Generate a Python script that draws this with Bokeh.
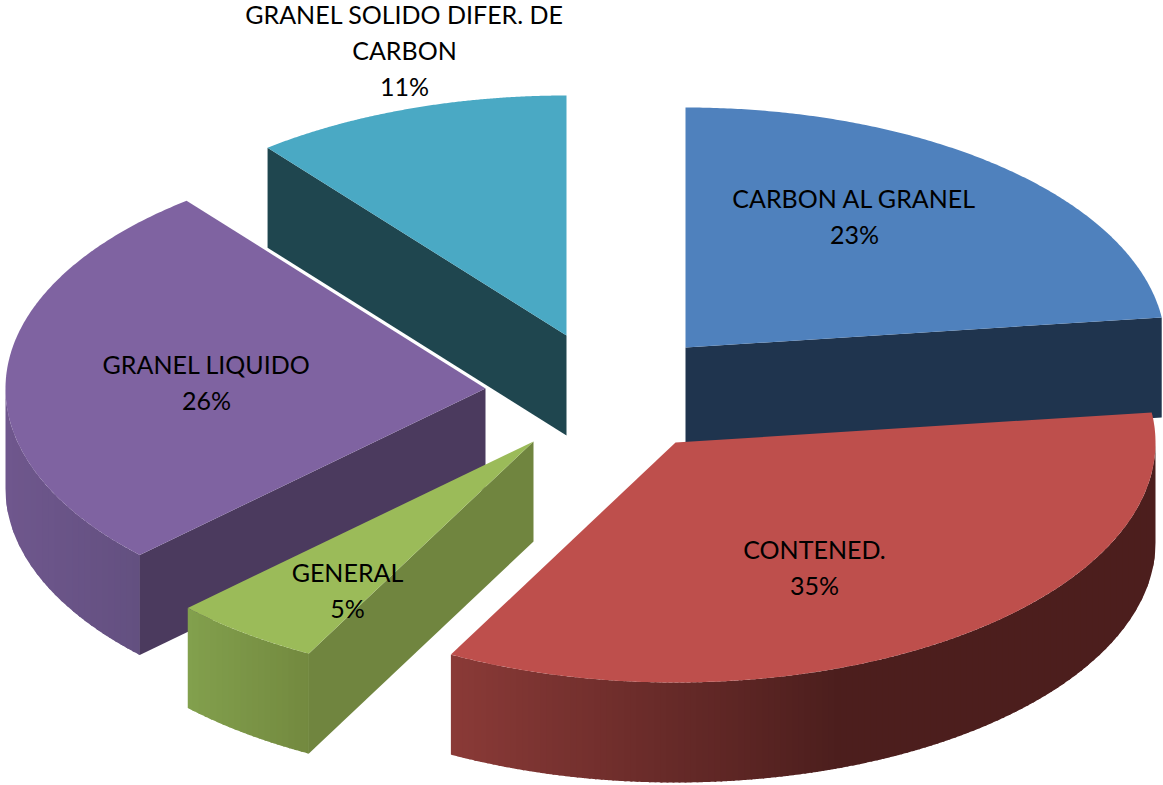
import numpy as np
from bokeh.plotting import figure
from bokeh.models import Range1d
from bokeh.core.properties import value
from bokeh.embed import file_html
from bokeh.resources import INLINE

categories = ["CARBON AL GRANEL", "CONTENED.", "GENERAL", "GRANEL LIQUIDO", "GRANEL SOLIDO DIFER. DE CARBON"]
shares = [23.0, 34.75, 5.05, 26.5, 10.7]
percent_labels = ["23%", "35%", "5%", "26%", "11%"]
label_lines = [["CARBON AL GRANEL"], ["CONTENED."], ["GENERAL"], ["GRANEL LIQUIDO"], ["GRANEL SOLIDO DIFER. DE", "CARBON"]]
top_colors = ["#4F81BD", "#BE4F4C", "#9BBB59", "#7F63A1", "#4AA9C4"]
cut_colors = ["#1F344E", "#4F1F1D", "#70853F", "#4B3A5E", "#1F464F"]
wall_left = ["#1F344E", "#8A3A37", "#82A04D", "#6F578D", "#1F464F"]
wall_right = ["#1F344E", "#4C1E1D", "#73893F", "#635080", "#1F464F"]
wall_end_x = [0, 840, 309, 139, 0]
apex_x = [685, 675, 533, 485, 566]
apex_y = [347, 442, 441, 388, 335]
cut_edge = [1, None, 0, 0, 0]
label_x = [854, 814, 347, 206, 404]
label_y = [197, 548, 571, 363, 13]
draw_order = [4, 3, 2, 0, 1]

RX, RY, DEPTH = 480.0, 240.0, 100.0
LINE = 36
FONT = "25px"
BAND = 6
OVERLAP = 2


def rim(cx, cy, a):
    return cx + RX * np.sin(a), cy - RY * np.cos(a)


def mix(c0, c1, t):
    a = [int(c0[i:i + 2], 16) for i in (1, 3, 5)]
    b = [int(c1[i:i + 2], 16) for i in (1, 3, 5)]
    return "#%02x%02x%02x" % tuple(int(round(u + (v - u) * t)) for u, v in zip(a, b))


p = figure(width=1163, height=785, output_backend="svg", toolbar_location=None,
           x_range=Range1d(0, 1163), y_range=Range1d(785, 0), min_border=0)
p.xaxis.visible = False
p.yaxis.visible = False
p.grid.visible = False
p.outline_line_color = None

cum = np.cumsum([0.0] + shares) / sum(shares) * 2 * np.pi

for i in draw_order:
    a0, a1 = cum[i], cum[i + 1]
    cx, cy = apex_x[i], apex_y[i]

    # outer wall: vertical bands painted left to right, each overlapping the next
    lo, hi = max(a0, np.pi / 2), min(a1, 3 * np.pi / 2)
    if hi > lo:
        right, _ = rim(cx, cy, lo)
        left, _ = rim(cx, cy, hi)
        inner = np.arange(np.ceil(left / BAND) * BAND, right, BAND)
        cuts = np.r_[left, inner, right]
        xs, ys, cols = [], [], []
        for s, e in zip(cuts[:-1], cuts[1:]):
            bx = np.linspace(s, min(e + OVERLAP, right), 8)
            ang = np.pi - np.arcsin(np.clip((bx - cx) / RX, -1, 1))
            _, by = rim(cx, cy, ang)
            xs.append(np.r_[bx, bx[::-1]])
            ys.append(np.r_[by, by[::-1] + DEPTH])
            t = min(1.0, max(0.0, ((s + e) / 2 - left) / (wall_end_x[i] - left)))
            cols.append(mix(wall_left[i], wall_right[i], t))
        p.patches(xs, ys, fill_color=cols, line_color=None)

    # cut face
    if cut_edge[i] is not None:
        a = cum[i + cut_edge[i]]
        ex, ey = rim(cx, cy, a)
        p.patch([cx, ex, ex, cx], [cy, ey, ey + DEPTH, cy + DEPTH],
                fill_color=cut_colors[i], line_color=None)

    # top
    arc = np.linspace(a0, a1, 200)
    x, y = rim(cx, cy, arc)
    p.patch(np.r_[cx, x], np.r_[cy, y], fill_color=top_colors[i], line_color=None)

tx, ty, tt = [], [], []
for i, lines in enumerate(label_lines):
    rows = lines + [percent_labels[i]]
    for k, row in enumerate(rows):
        tx.append(label_x[i])
        ty.append(label_y[i] + k * LINE)
        tt.append(row)
p.text(x=tx, y=ty, text=tt, text_font=value("Lato"), text_font_size=value(FONT),
       text_color="#000000", text_align="center", text_baseline="middle")

open("out.html", "w").write(file_html(p, INLINE))
